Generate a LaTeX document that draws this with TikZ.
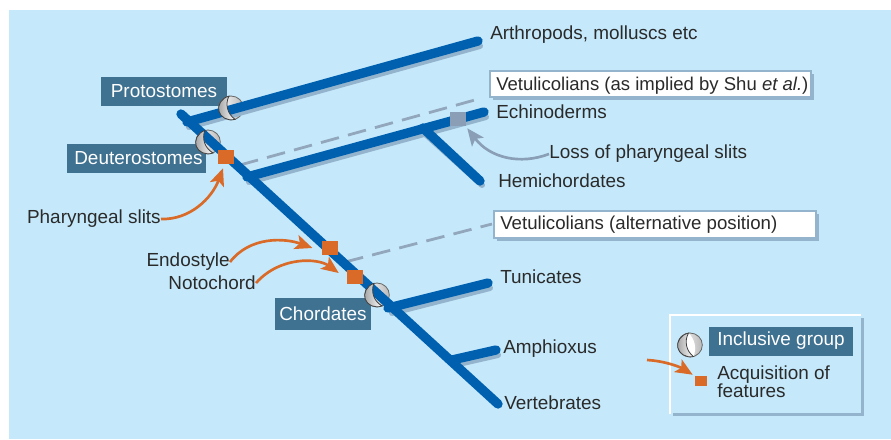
\documentclass[tikz,border=0pt]{standalone}
\usepackage{fontspec}
\setmainfont{Liberation Sans}
\usetikzlibrary{arrows.meta,shapes.geometric}
\definecolor{bgblue}{HTML}{C5E9FB}
\definecolor{branch}{HTML}{0060B0}
\definecolor{shadowC}{HTML}{93B4CC}
\definecolor{labelbox}{HTML}{3F7191}
\definecolor{orangeC}{HTML}{D96A27}
\definecolor{greyC}{HTML}{8A9FB5}
\definecolor{dashC}{HTML}{93A7BC}
\definecolor{inkC}{HTML}{2A2A2A}
\tikzset{
  x=0.75pt,y=-0.75pt,
  every node/.style={font=\fontsize{14.2}{16}\selectfont,text=inkC,inner sep=0pt},
  txt/.style={anchor=west},
  tag/.style={fill=labelbox,text=white,minimum height=21.75pt,inner sep=0pt,anchor=center},
  white box/.style={fill=white,minimum height=19.5pt,anchor=west,inner sep=0pt},
  branch line/.style={draw=branch,line width=7pt,line cap=round},
  shadow line/.style={draw=shadowC,line width=4.5pt,line cap=round},
  dash line/.style={draw=dashC,line width=2.1pt,dash pattern=on 14pt off 7pt},
  orange sq/.style={fill=orangeC,minimum width=12pt,minimum height=10.5pt},
  grey sq/.style={fill=greyC,minimum width=12pt,minimum height=10.5pt},
  orange arrow/.style={draw=orangeC,line width=2pt,-{Stealth[length=13pt,width=11pt,inset=3pt]}},
  grey arrow/.style={draw=greyC,line width=2pt,-{Stealth[length=13pt,width=11pt,inset=3pt]}},
}
\newcommand{\cladeback}[4]{% name x y rot
  \begin{scope}[shift={(#2,#3)},rotate=#4]
    \node[ellipse,minimum width=18.5pt,minimum height=18pt,draw=black!60,line width=0.6pt,left color=white,right color=gray!55] (#1) at (0,0) {};
  \end{scope}}
\newcommand{\cladefront}[3]{% x y rot
  \begin{scope}[shift={(#1,#2)},rotate=#3]
    \path[left color=gray!75,right color=white,draw=black!75,line width=0.6pt]
      (1,-12) .. controls (-7,-12) and (-12.5,-6) .. (-12.5,0) .. controls (-12.5,6) and (-7,12) .. (1,12)
      .. controls (-5,5) and (-5,-5) .. (1,-12) -- cycle;
  \end{scope}}
\begin{document}
\begin{tikzpicture}
\useasboundingbox (0,0) rectangle (891,439);
\fill[bgblue] (9,10) rectangle (891,439);

% free end points
\coordinate (top) at (181,114);
\coordinate (vert) at (498,404);
\coordinate (pj) at (187,122);
\coordinate (arth) at (478,41);
\coordinate (dj) at (247,177);
\coordinate (echi) at (484,112);
\coordinate (hj) at (423,128);
\coordinate (hemi) at (480,181);
\coordinate (tj) at (388,308);
\coordinate (tuni) at (488,283);
\coordinate (aj) at (452,360);
\coordinate (amph) at (496,350);

% tags
\node[tag,minimum width=94.5pt] (prot) at (164,91.5) {Protostomes};
\node[tag,minimum width=104.5pt] (deut) at (136.5,158.5) {\hspace{3pt}Deuterostomes};
\node[tag,minimum width=72pt,minimum height=24pt] (chor) at (323,314) {Chordates};

% clade symbols, back part
\cladeback{cp}{231}{108}{15}
\cladeback{cd}{208}{142}{20}
\cladeback{cc}{377}{295}{20}

% shadows
\draw[shadow line] ([shift={(2,5)}]pj) -- ([shift={(2,5)}]arth);
\draw[shadow line] ([shift={(2,5)}]dj) -- ([shift={(2,5)}]echi);
\draw[shadow line] ([shift={(0,4)}]hj) -- ([shift={(2,4)}]hemi);
\draw[shadow line] ([shift={(4,5)}]tj) -- ([shift={(2,5)}]tuni);
\draw[shadow line] ([shift={(2,5)}]aj) -- ([shift={(2,5)}]amph);

% dashed lines
\coordinate (d1s) at (240,165);
\coordinate (d1e) at (482,98);
\coordinate (d2s) at (345,262);
\coordinate (d2e) at (492,224);
\draw[dash line] (d1s) -- (d1e);
\draw[dash line] (d2s) -- (d2e);

% branches
\draw[branch line] (pj) -- (arth);
\draw[branch line] (dj) -- (echi);
\draw[branch line] (hj) -- (hemi);
\draw[branch line] (tj) -- (tuni);
\draw[branch line] (aj) -- (amph);
\draw[branch line] (top) -- (vert);

% clade symbols, front part
\cladefront{231}{108}{15}
\cladefront{208}{142}{20}
\cladefront{377}{295}{20}

% squares
\node[orange sq] (sq1) at (226,157) {};
\node[orange sq] (sq2) at (330,248) {};
\node[orange sq] (sq3) at (355,277) {};
\node[grey sq] (sq4) at (458,119) {};

% right labels
\node[txt] (tarth) at (490,35) {Arthropods, molluscs etc};
\node[txt] (techi) at (496,112) {Echinoderms};
\node[txt] (tloss) at (549,154) {Loss of pharyngeal slits};
\node[txt] (themi) at (498,181) {Hemichordates};
\node[txt] (ttuni) at (500,277) {Tunicates};
\node[txt] (tamph) at (503,349) {Amphioxus};
\node[txt] (tvert) at (504,403) {Vertebrates};

% left labels
\node[anchor=east] (tphar) at (161,219) {Pharyngeal slits};
\node[anchor=east] (tendo) at (230,262) {Endostyle};
\node[anchor=east] (tnoto) at (256,283) {Notochord};

% white boxes
\fill[shadowC] (493,74) rectangle (814,100);
\node[white box,minimum width=240.75pt] (v1) at (490,84) {};
\draw[shadowC,line width=0.8pt] (490,71) rectangle (811,97);
\node[txt,font=\fontsize{13.9}{16}\selectfont] at (496,86) {Vetulicolians (as implied by Shu \textit{et al.})};
\fill[shadowC] (497,214) rectangle (819,241);
\node[white box,minimum width=241.5pt] (v2) at (494,224.5) {};
\draw[shadowC,line width=0.8pt] (494,211) rectangle (816,238);
\node[txt,font=\fontsize{14}{16}\selectfont] at (500,224.5) {Vetulicolians (alternative position)};

% arrows
\draw[orange arrow] (tphar.east) .. controls (190,220) and (212,198) .. ([shift={(-3,4)}]sq1.south);
\draw[orange arrow] (tendo.east) .. controls (250,236) and (285,238) .. ([xshift=-7]sq2.west);
\draw[orange arrow] (tnoto.east) .. controls (280,256) and (318,258) .. ([xshift=-6,yshift=3]sq3.west);
\draw[grey arrow] (tloss.west) .. controls (520,165) and (490,158) .. ([shift={(1,2)}]sq4.south east);

% legend
\fill[shadowC] (673,318) rectangle (864,416);
\fill[bgblue] (670,315) rectangle (861,413);
\draw[white,line width=1.6pt] (670,414) -- (670,315) -- (861,315);
\coordinate (lg) at (647,360);
\cladeback{cl}{690}{345}{12}
\begin{scope}[shift={(690,345)},rotate=12]
  \fill[white] (1,-12) .. controls (-5,-5) and (-5,5) .. (1,12) .. controls (6,5) and (6,-5) .. (1,-12) -- cycle;
\end{scope}
\cladefront{690}{345}{12}
\node[tag,minimum width=108pt] (inc) at (781,341) {Inclusive group};
\node[fill=orangeC,minimum width=9pt,minimum height=7.5pt] (lsq) at (701,381) {};
\draw[orange arrow] (lg) .. controls (665,361) and (680,367) .. ([shift={(-2,-1)}]lsq.north west);
\node[anchor=west,align=left,font=\fontsize{14.2}{13.5}\selectfont] (acq) at (717,381.5) {Acquisition of\\features};
\end{tikzpicture}
\end{document}
